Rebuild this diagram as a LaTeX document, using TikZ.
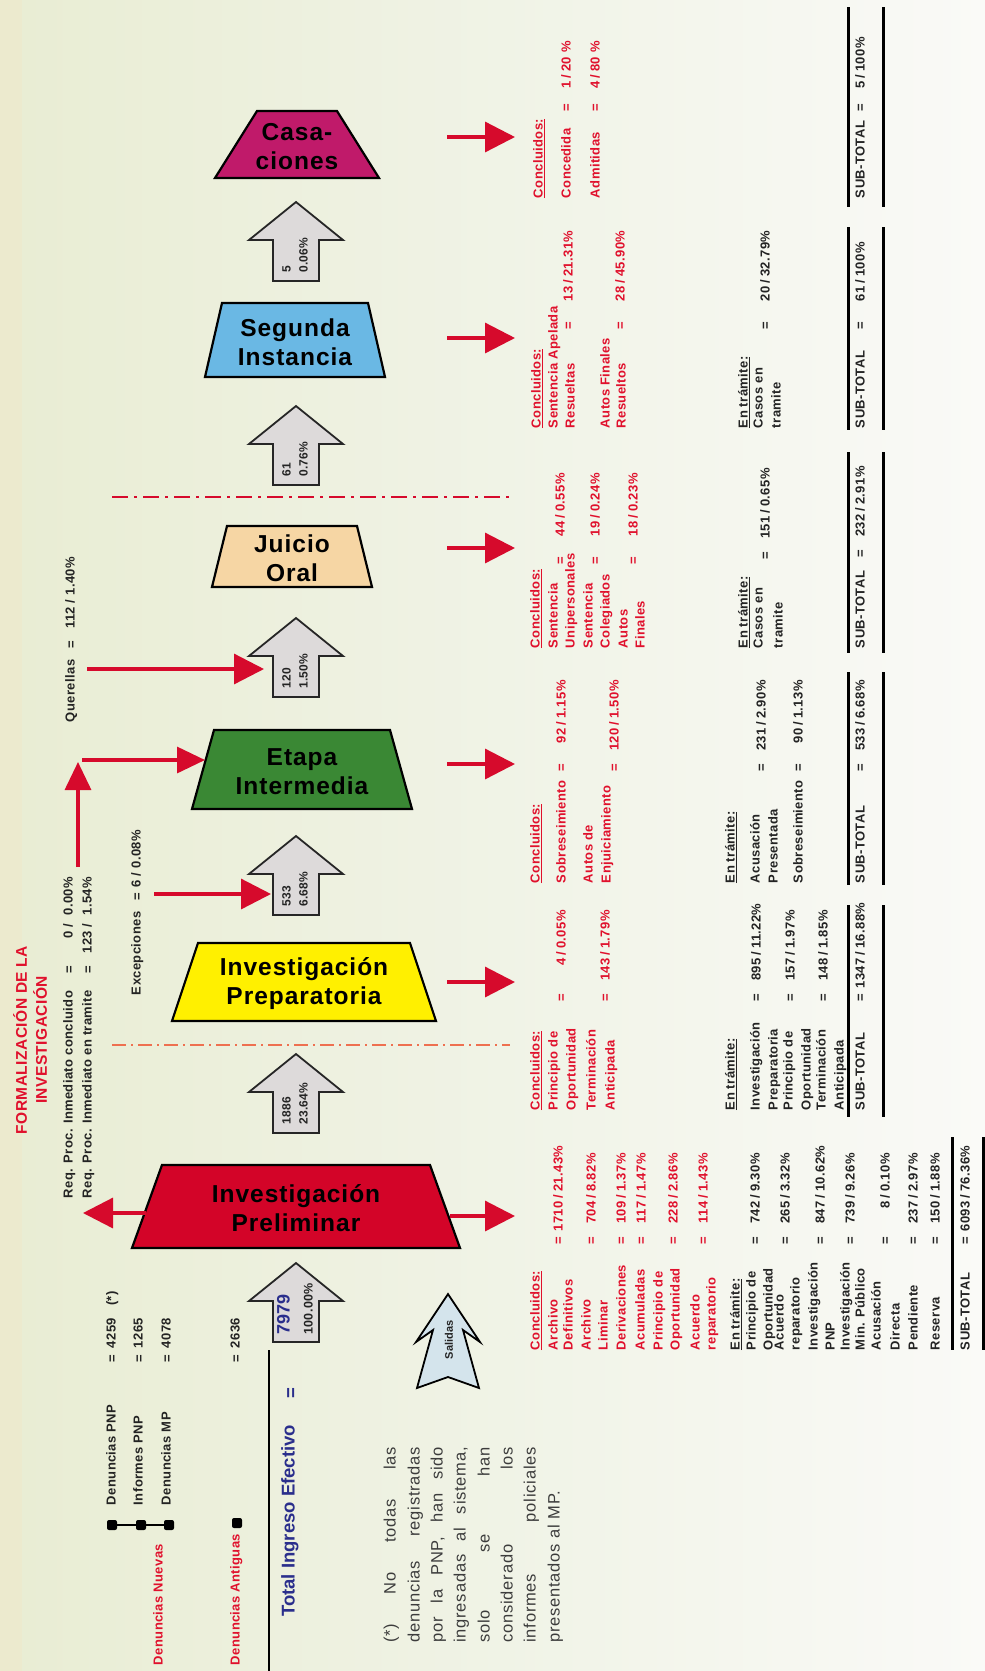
\documentclass[tikz,border=0pt]{standalone}
\usepackage{fontspec}
\setmainfont{Liberation Sans}
\newfontfamily\tabf{Liberation Sans}[LetterSpace=3]
\newfontfamily\boxf{Liberation Sans}[LetterSpace=4]
\newfontfamily\parf{Liberation Sans}[LetterSpace=5]
\usetikzlibrary{arrows.meta}
\definecolor{bgA}{RGB}{236,234,206}
\definecolor{bgB}{RGB}{233,237,212}
\definecolor{bgC}{RGB}{240,243,230}
\definecolor{bgD}{RGB}{250,250,247}
\definecolor{myred}{RGB}{214,10,44}
\definecolor{txtred}{RGB}{224,16,44}
\definecolor{prelim}{RGB}{211,4,40}
\definecolor{casac}{RGB}{192,26,106}
\definecolor{segun}{RGB}{106,184,228}
\definecolor{juicio}{RGB}{246,214,164}
\definecolor{etapa}{RGB}{58,136,52}
\definecolor{prepa}{RGB}{255,240,0}
\definecolor{garrow}{RGB}{221,218,218}
\definecolor{salidas}{RGB}{212,228,236}
\definecolor{navy}{RGB}{42,46,140}
\definecolor{orng}{RGB}{238,112,80}
\definecolor{darktxt}{RGB}{35,35,35}
\definecolor{partxt}{RGB}{60,60,60}
\newcounter{nn}
\newcommand\tline[4][]{\stepcounter{nn}\node[tabtext,#1] (n\arabic{nn}) at (#2,-#3) {#4};}
\newcommand\tval[6][31pt]{\stepcounter{nn}\node[tabtext,#6] (n\arabic{nn}) at (#2,-#3) {=\hspace{4pt}\makebox[#1][r]{#4}\hspace{3pt}/\hspace{3pt}#5};}
\newcommand\trapbox[8]{%
  \draw[boxline,fill=#7] (#2-#5,-#3) -- (#2+#5,-#3) -- (#2+#6,-#4) -- (#2-#6,-#4) -- cycle;
  \node[boxtext] (#1) at (#2,-#3/2-#4/2-2) {#8};}
\newcommand\grayarrow[4]{%
  \draw[garr] (296,-#2) -- (343,-#2-38) -- (319,-#2-38) -- (319,-#2-79) -- (273,-#2-79) -- (273,-#2-38) -- (249,-#2-38) -- cycle;
  \node[arrtxt] (#1a) at (288,-#2-71) {#3};
  \node[arrtxt] (#1b) at (305,-#2-71) {#4};}
\newcommand\pline[3]{\stepcounter{nn}\node[partext] (n\arabic{nn}) at (#1,-1643) {\makebox[196pt][#2]{#3}};}
\begin{document}
\begin{tikzpicture}[x=1pt,y=1pt,
  tabtext/.style={rotate=90, anchor=mid west, inner sep=0pt, outer sep=0pt, font=\tabf\bfseries\fontsize{13}{15}\selectfont, text=darktxt},
  redt/.style={text=txtred},
  partext/.style={rotate=90, anchor=mid west, inner sep=0pt, font=\parf\fontsize{16.5}{20}\selectfont, text=partxt},
  boxline/.style={draw=black, line width=2.2pt, line join=miter},
  boxtext/.style={font=\boxf\bfseries\fontsize{24.5}{29}\selectfont, align=center, text=black, inner sep=0pt},
  garr/.style={draw=black!85, line width=1.8pt, fill=garrow, line join=miter},
  arrtxt/.style={rotate=90, anchor=mid west, inner sep=0pt, font=\tabf\bfseries\fontsize{12}{13}\selectfont, text=darktxt},
  redarr/.style={draw=myred, line width=3.3pt, -{Triangle[length=30pt,width=30pt]}},
  redarrs/.style={draw=myred, line width=3.3pt, -{Triangle[length=28pt,width=26pt]}},
  tabrule/.style={draw=black, line width=3pt},
  dotn/.style={fill=black, rounded corners=2pt, minimum width=10pt, minimum height=10pt, inner sep=0pt}
]
\useasboundingbox (0,0) rectangle (985,-1671);
% background
\fill[bgA] (0,0) rectangle (22.5,-1671);
\shade[left color=bgB, right color=bgC] (22,0) rectangle (500.5,-1671);
\shade[left color=bgC, right color=bgD] (500,0) rectangle (985,-1671);

% dash-dot separators
\coordinate (dd1a) at (112,-1045); \coordinate (dd1b) at (510,-1045);
\draw[orng, line width=1.3pt, dash pattern=on 14pt off 5pt on 2pt off 5pt] (dd1a) -- (dd1b);
\coordinate (dd2a) at (112,-497); \coordinate (dd2b) at (512,-497);
\draw[myred, line width=2.5pt, dash pattern=on 16pt off 6pt on 3pt off 6pt] (dd2a) -- (dd2b);

% stage boxes
\trapbox{cas}{297}{111}{178}{40}{82}{casac}{Casa-\\ciones}
\trapbox{seg}{295}{303}{377}{73}{90}{segun}{Segunda\\Instancia}
\trapbox{jui}{292}{526}{587}{65}{80}{juicio}{Juicio\\Oral}
\trapbox{eta}{302}{730}{809}{88}{110}{etapa}{Etapa\\Intermedia}
\trapbox{pre}{304}{943}{1021}{106}{132}{prepa}{Investigación\\Preparatoria}
\trapbox{pli}{296}{1165}{1248}{134}{164}{prelim}{Investigación\\Preliminar}

% gray flow arrows
\grayarrow{g5}{202}{5}{0.06\%}
\grayarrow{g61}{406}{61}{0.76\%}
\grayarrow{g120}{618}{120}{1.50\%}
\grayarrow{g533}{836}{533}{6.68\%}
\grayarrow{g1886}{1054}{1886}{23.64\%}
\draw[garr] (296,-1263) -- (343,-1301) -- (319,-1301) -- (319,-1342) -- (273,-1342) -- (273,-1301) -- (249,-1301) -- cycle;
\node[arrtxt, font=\bfseries\fontsize{18}{20}\selectfont, text=navy] (g7979a) at (287,-1335) {7979};
\node[arrtxt, font=\tabf\bfseries\fontsize{12.5}{14}\selectfont] (g7979b) at (310,-1335) {100.00\%};

% Salidas arrow
\draw[draw=black, line width=1.8pt, fill=salidas, line join=miter] (448,-1294) -- (480,-1342) -- (463,-1330) -- (479,-1388) -- (448,-1377) -- (417,-1388) -- (433,-1330) -- (416,-1342) -- cycle;
\node[rotate=90, inner sep=0pt, font=\bfseries\fontsize{11}{13}\selectfont, text=darktxt] (sal) at (449,-1340) {Salidas};

% red arrows to the tables
\foreach \yy/\nm in {137/c,338/s,548/j,764/e,982/p}{
  \coordinate (ra\nm) at (447,-\yy); \coordinate (rb\nm) at (515,-\yy);
  \draw[redarr] (ra\nm) -- (rb\nm);}
\coordinate (ral) at (450,-1216); \coordinate (rbl) at (515,-1216);
\draw[redarr] (ral) -- (rbl);
% left arrow out of Preliminar
\coordinate (lla) at (146,-1213); \coordinate (llb) at (83,-1213);
\draw[redarr] (lla) -- (llb);
% Req. Proc arrow up then into Etapa Intermedia
\coordinate (rqa) at (78,-867); \coordinate (rqb) at (78,-762);
\draw[redarrs] (rqa) -- (rqb);
\coordinate (rqc) at (82,-760); \coordinate (rqd) at (205,-760);
\draw[redarrs] (rqc) -- (rqd);
% Excepciones arrow
\coordinate (exa) at (154,-894); \coordinate (exb) at (271,-894);
\draw[redarr] (exa) -- (exb);
% Querellas arrow
\coordinate (qua) at (87,-669); \coordinate (qub) at (264,-669);
\draw[redarr] (qua) -- (qub);

% title
\node[rotate=90, inner sep=0pt, font=\tabf\bfseries\fontsize{15.5}{20}\selectfont, text=txtred, align=center] (title) at (30,-1040) {FORMALIZACIÓN DE LA\\INVESTIGACIÓN};

% Req. Proc. lines
\tline{70}{1198}{Req. Proc. Inmediato concluido}
\tline[anchor=center]{70}{970}{=}
\tline[anchor=mid east]{70}{877}{\makebox[24pt][r]{0}\hspace{4pt}/\hspace{8pt}0.00\%}
\tline{89}{1198}{Req. Proc. Inmediato en tramite}
\tline[anchor=center]{89}{970}{=}
\tline[anchor=mid east]{89}{877}{\makebox[24pt][r]{123}\hspace{4pt}/\hspace{8pt}1.54\%}
% Excepciones / Querellas
\tline{138}{995}{Excepciones}
\tline[anchor=center]{138}{897}{=}
\tline[anchor=mid east]{138}{830}{6 / 0.08\%}
\tline{72}{722}{Querellas}
\tline[anchor=center]{72}{645}{=}
\tline[anchor=mid east]{72}{557}{112 / 1.40\%}

% Denuncias
\node[dotn] (d1) at (112,-1525) {};
\node[dotn] (d2) at (141,-1525) {};
\node[dotn] (d3) at (169,-1525) {};
\draw[line width=2pt] (d1) -- (d2) -- (d3);
\node[dotn] (d4) at (237,-1523) {};
\tline{113}{1505}{Denuncias PNP}
\tline{140}{1505}{Informes PNP}
\tline{168}{1505}{Denuncias MP}
\tline[anchor=center]{113}{1359}{=}
\tline[anchor=center]{140}{1359}{=}
\tline[anchor=center]{168}{1359}{=}
\tline{113}{1348}{4259\hspace{12pt}(*)}
\tline{140}{1348}{1265}
\tline{168}{1348}{4078}
\tline[anchor=center]{237}{1359}{=}
\tline{237}{1348}{2636}
\tline[redt]{160}{1665}{Denuncias Nuevas}
\tline[redt]{237}{1665}{Denuncias Antiguas}

% Total ingreso
\node[rotate=90, anchor=mid west, inner sep=0pt, font=\bfseries\fontsize{18.5}{22}\selectfont, text=navy] (tie) at (292,-1617) {Total Ingreso Efectivo};
\node[rotate=90, inner sep=0pt, font=\bfseries\fontsize{18.5}{22}\selectfont, text=navy] (tieq) at (292,-1393) {=};
\coordinate (vla) at (269,-1350); \coordinate (vlb) at (269,-1671);
\draw[line width=2.5pt] (vla) -- (vlb);

% footnote paragraph
\pline{393}{s}{(*) No todas las}
\pline{417}{s}{denuncias registradas}
\pline{440}{s}{por la PNP, han sido}
\pline{463}{s}{ingresadas al sistema,}
\pline{487}{s}{solo se han}
\pline{510}{s}{considerado los}
\pline{533}{s}{informes policiales}
\pline{557}{l}{presentados al MP.}

% ---------- Preliminar table
\tline[redt]{537}{1350}{\underline{Concluidos:}}
\tline[redt]{555}{1350}{Archivo}
\tline[redt]{570}{1350}{Definitivos}
\tline[redt]{588}{1350}{Archivo}
\tline[redt]{605}{1350}{Liminar}
\tline[redt]{623}{1350}{Derivaciones}
\tline[redt]{642}{1350}{Acumuladas}
\tline[redt]{660}{1350}{Principio de}
\tline[redt]{677}{1350}{Oportunidad}
\tline[redt]{697}{1350}{Acuerdo}
\tline[redt]{713}{1350}{reparatorio}
\tval{560}{1244}{1710}{21.43\%}{redt}
\tval{593}{1244}{704}{8.82\%}{redt}
\tval{623}{1244}{109}{1.37\%}{redt}
\tval{643}{1244}{117}{1.47\%}{redt}
\tval{675}{1244}{228}{2.86\%}{redt}
\tval{705}{1244}{114}{1.43\%}{redt}
\tline{737}{1350}{\underline{En trámite:}}
\tline{753}{1350}{Principio de}
\tline{770}{1350}{Oportunidad}
\tline{781}{1350}{Acuerdo}
\tline{797}{1350}{reparatorio}
\tline{815}{1350}{Investigación}
\tline{832}{1350}{PNP}
\tline{847}{1350}{Investigación}
\tline{862}{1350}{Min. Público}
\tline{878}{1350}{Acusación}
\tline{897}{1350}{Directa}
\tline{915}{1350}{Pendiente}
\tline{937}{1350}{Reserva}
\tval{757}{1244}{742}{9.30\%}{}
\tval{787}{1244}{265}{3.32\%}{}
\tval{822}{1244}{847}{10.62\%}{}
\tval{852}{1244}{739}{9.26\%}{}
\tval{887}{1244}{8}{0.10\%}{}
\tval{915}{1244}{237}{2.97\%}{}
\tval{937}{1244}{150}{1.88\%}{}
\coordinate (r1a) at (952,-1137); \coordinate (r1b) at (952,-1350);
\coordinate (r2a) at (983,-1137); \coordinate (r2b) at (983,-1350);
\draw[tabrule] (r1a) -- (r1b); \draw[tabrule] (r2a) -- (r2b);
\tline{967}{1350}{SUB-TOTAL}
\tval{967}{1244}{6093}{76.36\%}{}

% ---------- Preparatoria table
\tline[redt]{537}{1110}{\underline{Concluidos:}}
\tline[redt]{555}{1110}{Principio de}
\tline[redt]{573}{1110}{Oportunidad}
\tline[redt]{593}{1110}{Terminación}
\tline[redt]{612}{1110}{Anticipada}
\tval{563}{1001}{4}{0.05\%}{redt}
\tval{607}{1001}{143}{1.79\%}{redt}
\tline{732}{1110}{\underline{En trámite:}}
\tline{757}{1110}{Investigación}
\tline{775}{1110}{Preparatoria}
\tline{790}{1110}{Principio de}
\tline{808}{1110}{Oportunidad}
\tline{823}{1110}{Terminación}
\tline{841}{1110}{Anticipada}
\tval{758}{1001}{895}{11.22\%}{}
\tval{792}{1001}{157}{1.97\%}{}
\tval{825}{1001}{148}{1.85\%}{}
\coordinate (p1a) at (848,-905); \coordinate (p1b) at (848,-1117);
\coordinate (p2a) at (883,-905); \coordinate (p2b) at (883,-1117);
\draw[tabrule] (p1a) -- (p1b); \draw[tabrule] (p2a) -- (p2b);
\tline{862}{1110}{SUB-TOTAL}
\tval{862}{1001}{1347}{16.88\%}{}

% ---------- Intermedia table
\tline[redt]{537}{883}{\underline{Concluidos:}}
\tline[redt]{563}{883}{Sobreseimiento}
\tline[redt]{590}{883}{Autos de}
\tline[redt]{608}{883}{Enjuiciamiento}
\tval{563}{771}{92}{1.15\%}{redt}
\tval{616}{771}{120}{1.50\%}{redt}
\tline{732}{883}{\underline{En trámite:}}
\tline{757}{883}{Acusación}
\tline{775}{883}{Presentada}
\tline{800}{883}{Sobreseimiento}
\tval{763}{771}{231}{2.90\%}{}
\tval{800}{771}{90}{1.13\%}{}
\coordinate (i1a) at (848,-672); \coordinate (i1b) at (848,-885);
\coordinate (i2a) at (883,-672); \coordinate (i2b) at (883,-885);
\draw[tabrule] (i1a) -- (i1b); \draw[tabrule] (i2a) -- (i2b);
\tline{862}{883}{SUB-TOTAL}
\tval{862}{771}{533}{6.68\%}{}

% ---------- Juicio Oral table
\tline[redt]{537}{648}{\underline{Concluidos:}}
\tline[redt]{555}{648}{Sentencia}
\tline[redt]{572}{648}{Unipersonales}
\tline[redt]{590}{648}{Sentencia}
\tline[redt]{607}{648}{Colegiados}
\tline[redt]{625}{648}{Autos}
\tline[redt]{642}{648}{Finales}
\tval{562}{564}{44}{0.55\%}{redt}
\tval{597}{564}{19}{0.24\%}{redt}
\tval{635}{564}{18}{0.23\%}{redt}
\tline{745}{648}{\underline{En trámite:}}
\tline{760}{648}{Casos en}
\tline{780}{648}{tramite}
\tval{767}{559}{151}{0.65\%}{}
\coordinate (j1a) at (848,-452); \coordinate (j1b) at (848,-653);
\coordinate (j2a) at (883,-452); \coordinate (j2b) at (883,-653);
\draw[tabrule] (j1a) -- (j1b); \draw[tabrule] (j2a) -- (j2b);
\tline{862}{648}{SUB-TOTAL}
\tval{862}{557}{232}{2.91\%}{}

% ---------- Segunda Instancia table
\tline[redt]{538}{428}{\underline{Concluidos:}}
\tline[redt]{555}{428}{Sentencia Apelada}
\tline[redt]{572}{428}{Resueltas}
\tline[redt]{607}{428}{Autos Finales}
\tline[redt]{623}{428}{Resueltos}
\tval{570}{329}{13}{21.31\%}{redt}
\tval{622}{329}{28}{45.90\%}{redt}
\tline{745}{428}{\underline{En trámite:}}
\tline{760}{428}{Casos en}
\tline{778}{428}{tramite}
\tval{767}{329}{20}{32.79\%}{}
\coordinate (s1a) at (848,-227); \coordinate (s1b) at (848,-430);
\coordinate (s2a) at (883,-227); \coordinate (s2b) at (883,-430);
\draw[tabrule] (s1a) -- (s1b); \draw[tabrule] (s2a) -- (s2b);
\tline{862}{428}{SUB-TOTAL}
\tval{862}{329}{61}{100\%}{}

% ---------- Casaciones table
\tline[redt]{540}{198}{\underline{Concluidos:}}
\tline[redt]{568}{198}{Concedida}
\tline[redt]{597}{198}{Admitidas}
\tval[18pt]{568}{111}{1}{20 \%}{redt}
\tval[18pt]{597}{111}{4}{80 \%}{redt}
\coordinate (c1a) at (848,-7); \coordinate (c1b) at (848,-207);
\coordinate (c2a) at (883,-7); \coordinate (c2b) at (883,-207);
\draw[tabrule] (c1a) -- (c1b); \draw[tabrule] (c2a) -- (c2b);
\tline{862}{198}{SUB-TOTAL}
\tval[18pt]{862}{111}{5}{100\%}{}
\end{tikzpicture}
\end{document}
